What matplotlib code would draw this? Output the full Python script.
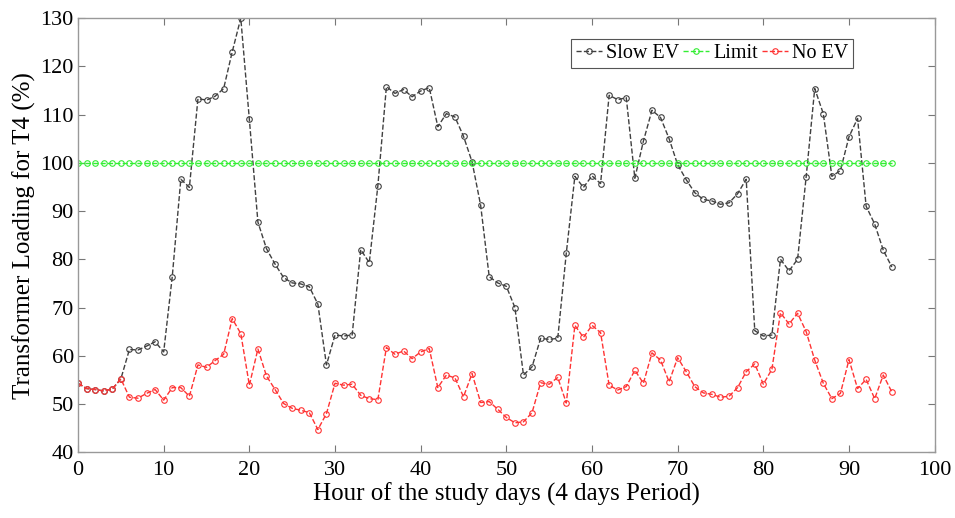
import numpy as np
import matplotlib
matplotlib.use('Agg')
import matplotlib.pyplot as plt

hours = np.arange(96)

no_ev = [54.3, 53.2, 53.0, 52.7, 53.1, 55.2, 51.4, 51.2, 52.2, 53.0,
         50.8, 53.4, 53.4, 51.6, 58.1, 57.6, 59.0, 60.3, 67.7, 64.6,
         53.9, 61.4, 55.8, 53.0, 50.1, 49.1, 48.7, 48.2, 44.7, 48.0,
         54.3, 53.9, 54.1, 51.8, 51.1, 50.9, 61.7, 60.3, 61.0, 59.4,
         60.8, 61.5, 53.4, 56.0, 55.4, 51.5, 56.3, 50.3, 50.5, 48.9,
         47.2, 46.1, 46.3, 48.2, 54.4, 54.1, 55.5, 50.2, 66.3, 63.8,
         66.3, 64.8, 53.9, 52.9, 53.6, 57.0, 54.3, 60.6, 59.1, 54.6,
         59.6, 56.7, 53.6, 52.3, 52.0, 51.4, 51.6, 53.4, 56.7, 58.3,
         54.1, 57.2, 68.9, 66.6, 68.8, 65.0, 59.1, 54.3, 51.1, 52.2,
         59.2, 53.2, 55.1, 51.1, 56.0, 52.5]

slow_ev = [54.3, 53.2, 53.0, 52.7, 53.1, 55.2, 61.3, 61.2, 62.0, 62.9,
           60.8, 76.4, 96.6, 94.9, 113.3, 113.0, 113.8, 115.4, 123.0, 130.0,
           109.0, 87.7, 82.2, 79.0, 76.2, 75.1, 74.9, 74.3, 70.7, 58.1,
           64.3, 64.1, 64.3, 82.0, 79.3, 95.2, 115.8, 114.4, 115.2, 113.7,
           114.9, 115.6, 107.5, 110.2, 109.5, 105.5, 100.2, 91.2, 76.4, 75.1,
           74.4, 70.0, 56.0, 57.7, 63.6, 63.4, 63.6, 81.3, 97.2, 94.9,
           97.3, 95.7, 114.0, 113.1, 113.5, 96.8, 104.5, 110.9, 109.4, 105.0,
           99.6, 96.5, 93.8, 92.4, 92.1, 91.4, 91.7, 93.6, 96.6, 65.2,
           64.1, 64.3, 80.0, 77.6, 80.0, 97.1, 115.4, 110.2, 97.2, 98.4,
           105.4, 109.2, 91.0, 87.3, 81.9, 78.4]

limit = [100.0] * len(hours)

plt.rcParams['font.family'] = ['Liberation Serif', 'DejaVu Serif']

fig = plt.figure(figsize=(9.55, 5.18), dpi=100)
ax = fig.add_axes([0.0817, 0.127, 0.897, 0.838])

style = dict(linestyle='--', linewidth=1.0, marker='o', markersize=4,
             markerfacecolor='none', markeredgewidth=0.8)
ax.plot(hours, slow_ev, color='#404040', label='Slow EV', **style)
ax.plot(hours, limit, color='#33ee33', label='Limit', **style)
ax.plot(hours, no_ev, color='#ff3333', label='No EV', **style)

ax.set_xlim(0, 100)
ax.set_ylim(40, 130)
ax.set_xticks(np.arange(0, 101, 10))
ax.set_yticks(np.arange(40, 131, 10))
ax.tick_params(direction='in', top=True, right=True, labelsize=16,
               length=5, color='#777777', pad=3)
ax.tick_params(axis='x', pad=6)
for sp in ax.spines.values():
    sp.set_color('#999999')
    sp.set_linewidth(1.0)

ax.set_xlabel('Hour of the study days (4 days Period)', fontsize=18, labelpad=2)
ax.set_ylabel('Transformer Loading for T4 (%)', fontsize=18, labelpad=3)

leg = ax.legend(loc='upper right', bbox_to_anchor=(0.905, 0.952), ncol=3,
                fontsize=14.5, handlelength=1.3, handletextpad=0.2,
                columnspacing=0.2, borderpad=0.25, borderaxespad=0,
                fancybox=False, framealpha=1, edgecolor='#555555')
leg.get_frame().set_linewidth(0.8)

fig.savefig('out.png', dpi=100)
